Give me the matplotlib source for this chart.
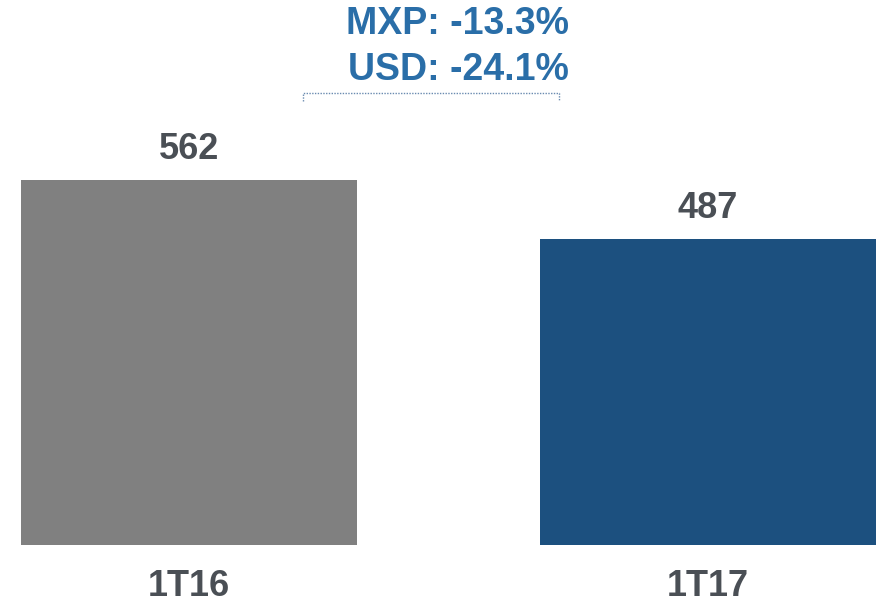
import matplotlib
matplotlib.use("Agg")
import matplotlib.pyplot as plt
import matplotlib.transforms as mtransforms

categories = ["1T16", "1T17"]
values = [562, 487]
bar_colors = ["#808080", "#1c507f"]
title_lines = ["MXP: -13.3%", "USD: -24.1%"]

plt.rcParams['font.family'] = ['Liberation Sans', 'DejaVu Sans']

W, H = 879, 605
fig = plt.figure(figsize=(W / 100, H / 100), dpi=100)
ax = fig.add_axes([0, 60 / H, 1, 545 / H])
ax.set_xlim(-189 / 519, (W - 189) / 519)
ax.set_ylim(98, 98 + 545 / 0.787)
ax.axis("off")

x = list(range(len(categories)))
ax.bar(x, values, width=336 / 519, color=bar_colors, linewidth=0)

text_gray = "#4a4f55"
trans = mtransforms.blended_transform_factory(ax.transData, fig.transFigure)
for xi, v, c in zip(x, values, categories):
    ax.annotate(f"{v}", (xi, v), xytext=(0, 21.5), textcoords="offset points",
                ha="center", va="center", fontsize=26, fontweight="bold",
                color=text_gray)
    ax.text(xi, 1 - 586 / H, c, transform=trans, ha="center", va="center",
            fontsize=26, fontweight="bold", color=text_gray, clip_on=False)

blue = "#2a6ea8"
fig.text(458 / W, 1 - 24 / H, title_lines[0], ha="center", va="center",
         fontsize=27, fontweight="bold", color=blue)
fig.text(458 / W, 1 - 70 / H, title_lines[1], ha="center", va="center",
         fontsize=27, fontweight="bold", color=blue)

# dotted bracket
bx0, bx1, by, byt = 303 / W, 559 / W, 1 - 93 / H, 1 - 101 / H
fig.add_artist(plt.Line2D([bx0, bx0, bx1, bx1], [byt, by, by, byt],
                          transform=fig.transFigure, color="#6a8bb0",
                          linestyle=(0, (1, 1)), linewidth=1))

fig.savefig("out.png", dpi=100)
